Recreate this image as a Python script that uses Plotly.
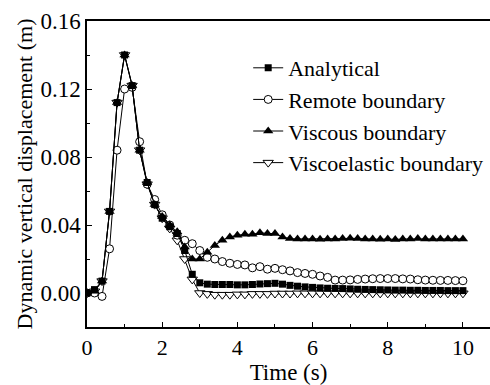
import plotly.graph_objects as go

time_s = [0.0, 0.2, 0.4, 0.6, 0.8, 1.0, 1.2, 1.4, 1.6, 1.8,
          2.0, 2.2, 2.4, 2.6, 2.8, 3.0, 3.2, 3.4, 3.6, 3.8,
          4.0, 4.2, 4.4, 4.6, 4.8, 5.0, 5.2, 5.4, 5.6, 5.8,
          6.0, 6.2, 6.4, 6.6, 6.8, 7.0, 7.2, 7.4, 7.6, 7.8,
          8.0, 8.2, 8.4, 8.6, 8.8, 9.0, 9.2, 9.4, 9.6, 9.8, 10.0]

analytical = [0.000, 0.002, 0.007, 0.048, 0.112, 0.140, 0.122, 0.084, 0.065, 0.052,
              0.044, 0.039, 0.035, 0.025, 0.011, 0.006, 0.0052, 0.005, 0.005, 0.005,
              0.0048, 0.0048, 0.005, 0.0053, 0.0055, 0.0057, 0.0052, 0.0045, 0.004, 0.0036,
              0.0033, 0.003, 0.0028, 0.0027, 0.0026, 0.0024, 0.0022, 0.0021, 0.002, 0.0019,
              0.0018, 0.0017, 0.0017, 0.0016, 0.0016, 0.0015, 0.0015, 0.0015, 0.0014, 0.0014, 0.0014]

remote = [0.000, 0.000, -0.002, 0.026, 0.084, 0.120, 0.121, 0.089, 0.064, 0.055,
          0.046, 0.040, 0.034, 0.031, 0.029, 0.025, 0.021, 0.020, 0.0185, 0.0175,
          0.0168, 0.0165, 0.0148, 0.0155, 0.014, 0.0145, 0.0137, 0.013, 0.012, 0.0115,
          0.011, 0.010, 0.0092, 0.0076, 0.0076, 0.0077, 0.008, 0.0082, 0.0084, 0.0085,
          0.0085, 0.0085, 0.0083, 0.0082, 0.0078, 0.0076, 0.0075, 0.0074, 0.0074, 0.0073, 0.0072]

viscous = [0.000, 0.001, 0.007, 0.048, 0.112, 0.140, 0.122, 0.084, 0.065, 0.052,
           0.045, 0.040, 0.036, 0.027, 0.020, 0.020, 0.024, 0.028, 0.031, 0.033,
           0.034, 0.0345, 0.0345, 0.0355, 0.035, 0.035, 0.033, 0.032, 0.0318, 0.0318,
           0.0318, 0.0316, 0.0318, 0.0318, 0.032, 0.0322, 0.032, 0.0318, 0.0318, 0.0316,
           0.0318, 0.0315, 0.0318, 0.0318, 0.032, 0.0318, 0.0318, 0.0318, 0.0318, 0.0318, 0.0318]

viscoelastic = [0.000, 0.001, 0.007, 0.048, 0.112, 0.140, 0.122, 0.084, 0.064, 0.052,
                0.044, 0.038, 0.031, 0.020, 0.008, 0.000, -0.0005, -0.001, -0.001, -0.001,
                -0.0008, -0.0008, -0.0005, -0.0005, -0.0005, -0.0003, -0.0003, -0.0003, -0.0002, -0.0002,
                -0.0002, -0.0002, -0.0002, -0.0002, -0.0002, -0.0002, -0.0002, -0.0002, -0.0002, -0.0002,
                -0.0002, -0.0002, -0.0002, -0.0002, -0.0002, -0.0002, -0.0002, -0.0002, -0.0002, -0.0002, -0.0002]

FONT = "Liberation Serif, Times New Roman, serif"

fig = go.Figure()

fig.add_trace(go.Scatter(x=time_s, y=viscoelastic, name="Viscoelastic boundary", mode="lines+markers",
                         line=dict(color="black", width=1), legendrank=4,
                         marker=dict(symbol="triangle-down", size=9, color="white",
                                     line=dict(color="black", width=1))))
fig.add_trace(go.Scatter(x=time_s, y=remote, name="Remote boundary", mode="lines+markers",
                         line=dict(color="black", width=1), legendrank=2,
                         marker=dict(symbol="circle", size=8, color="white",
                                     line=dict(color="black", width=1))))
fig.add_trace(go.Scatter(x=time_s, y=analytical, name="Analytical", mode="lines+markers",
                         line=dict(color="black", width=1), legendrank=1,
                         marker=dict(symbol="square", size=7, color="black")))
fig.add_trace(go.Scatter(x=time_s, y=viscous, name="Viscous boundary", mode="lines+markers",
                         line=dict(color="black", width=1), legendrank=3,
                         marker=dict(symbol="triangle-up", size=9, color="black")))

fig.update_layout(
    width=490, height=385,
    margin=dict(l=87, r=0, t=21, b=58),
    paper_bgcolor="white", plot_bgcolor="white",
    font=dict(family=FONT, size=22, color="black"),
    showlegend=True,
    legend=dict(x=0.40, y=0.915, xanchor="left", yanchor="top",
                bgcolor="rgba(0,0,0,0)", font=dict(family=FONT, size=22),
                tracegroupgap=0, itemwidth=30),
    xaxis=dict(range=[0, 10.72], tickmode="array", tickvals=[0, 2, 4, 6, 8, 10],
               ticktext=["0", "2", "4", "6", "8", "10"],
               tickfont=dict(family=FONT, size=22),
               ticks="inside", ticklen=5, tickwidth=1, tickcolor="black",
               minor=dict(tickvals=[1, 3, 5, 7, 9], ticks="inside", ticklen=3, tickcolor="black"),
               showline=True, linecolor="black", linewidth=1.5, mirror=True,
               showgrid=False, zeroline=False,
               title=dict(text="Time (s)", font=dict(family=FONT, size=23), standoff=4)),
    yaxis=dict(range=[-0.02, 0.16], tickmode="array",
               tickvals=[0.0, 0.04, 0.08, 0.12, 0.16],
               ticktext=["0.00", "0.04", "0.08", "0.12", "0.16"],
               tickfont=dict(family=FONT, size=23),
               ticks="inside", ticklen=5, tickwidth=1, tickcolor="black",
               minor=dict(tickvals=[-0.02, 0.02, 0.06, 0.10, 0.14], ticks="inside", ticklen=3, tickcolor="black"),
               showline=True, linecolor="black", linewidth=1.5, mirror=False,
               showgrid=False, zeroline=False,
               title=dict(text="Dynamic vertical displacement (m)", font=dict(family=FONT, size=22), standoff=2)),
)

fig.write_html("out.html")
